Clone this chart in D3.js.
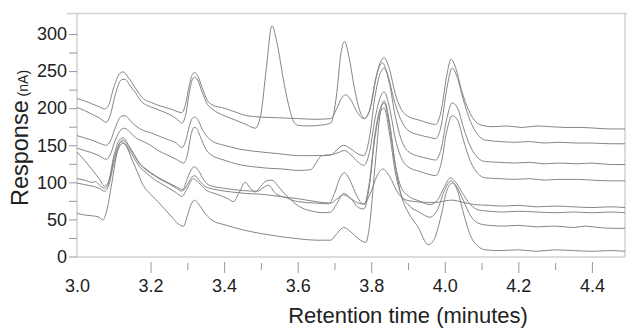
<!DOCTYPE html>
<html>
<head>
<meta charset="utf-8">
<script src="https://cdn.jsdelivr.net/npm/d3@7"></script>
<style>
  body { margin: 0; background: #fff; }
  svg { display: block; font-family: "Liberation Sans", Arial, sans-serif; }
</style>
</head>
<body>
<div id="chart"></div>
<script>
// chromatogram traces, [retention time (min), response (nA)]
var trace1 = [[3.00,213],[3.02,210],[3.04,206],[3.06,202],[3.075,199],[3.085,203],[3.10,228],[3.115,246],[3.125,249],[3.14,241],[3.155,230],[3.17,219],[3.185,211],[3.20,208],[3.22,204],[3.24,201],[3.26,198],[3.275,195],[3.285,194],[3.295,205],[3.305,230],[3.313,245],[3.32,248],[3.328,244],[3.34,228],[3.355,210],[3.37,204],[3.40,200],[3.43,195],[3.46,190],[3.50,188],[3.55,187],[3.60,186],[3.65,185],[3.69,186],[3.705,198],[3.72,214],[3.73,218],[3.745,211],[3.76,196],[3.78,186],[3.795,196],[3.81,235],[3.825,262],[3.835,268],[3.85,252],[3.865,220],[3.88,200],[3.90,189],[3.93,184],[3.955,180],[3.975,178],[3.99,196],[4.005,243],[4.017,266],[4.03,254],[4.045,225],[4.06,203],[4.08,184],[4.10,177],[4.13,175],[4.17,176],[4.21,174],[4.25,176],[4.29,175],[4.33,174],[4.37,174],[4.41,173],[4.45,172],[4.49,172]];
var trace2 = [[3.00,201],[3.02,197],[3.04,192],[3.06,187],[3.08,181],[3.09,190],[3.105,220],[3.12,238],[3.13,239],[3.145,230],[3.16,220],[3.175,209],[3.19,204],[3.21,200],[3.23,196],[3.25,192],[3.27,186],[3.285,180],[3.295,190],[3.305,220],[3.313,238],[3.32,242],[3.328,238],[3.34,222],[3.355,205],[3.37,198],[3.40,190],[3.43,184],[3.46,178],[3.485,173],[3.50,192],[3.515,255],[3.53,311],[3.545,285],[3.56,242],[3.575,205],[3.59,181],[3.60,177],[3.63,176],[3.66,177],[3.69,180],[3.705,215],[3.718,275],[3.727,290],[3.74,268],[3.755,225],[3.77,195],[3.782,186],[3.80,205],[3.815,245],[3.83,261],[3.845,245],[3.86,215],[3.88,185],[3.90,170],[3.93,164],[3.955,161],[3.975,159],[3.99,176],[4.005,225],[4.02,254],[4.035,240],[4.05,212],[4.07,182],[4.09,164],[4.11,157],[4.15,155],[4.19,154],[4.23,155],[4.27,153],[4.31,154],[4.36,153],[4.40,153],[4.45,152],[4.49,152]];
var trace3 = [[3.00,163],[3.02,160],[3.04,157],[3.06,153],[3.08,150],[3.09,155],[3.105,175],[3.12,189],[3.13,190],[3.145,183],[3.16,176],[3.18,170],[3.20,167],[3.22,163],[3.245,158],[3.27,153],[3.285,147],[3.295,155],[3.305,175],[3.313,186],[3.32,188],[3.328,185],[3.34,172],[3.355,161],[3.37,155],[3.40,150],[3.44,145],[3.48,142],[3.52,140],[3.56,138],[3.60,136],[3.65,136],[3.69,137],[3.705,143],[3.725,150],[3.745,145],[3.765,138],[3.78,136],[3.795,160],[3.81,215],[3.825,248],[3.835,254],[3.85,232],[3.865,190],[3.88,160],[3.90,142],[3.93,135],[3.955,132],[3.975,130],[3.99,145],[4.005,185],[4.02,207],[4.035,200],[4.05,175],[4.07,148],[4.09,133],[4.11,128],[4.15,127],[4.19,126],[4.23,127],[4.27,125],[4.31,126],[4.36,125],[4.40,126],[4.45,124],[4.49,124]];
var trace4 = [[3.00,146],[3.02,143],[3.04,140],[3.06,136],[3.08,131],[3.09,137],[3.105,158],[3.12,171],[3.13,173],[3.145,167],[3.16,160],[3.18,155],[3.20,150],[3.22,143],[3.245,137],[3.27,131],[3.29,126],[3.30,137],[3.31,164],[3.318,174],[3.325,173],[3.335,162],[3.35,145],[3.365,137],[3.40,130],[3.44,124],[3.48,121],[3.52,119],[3.56,118],[3.60,116],[3.635,117],[3.65,126],[3.665,136],[3.69,137],[3.71,140],[3.727,143],[3.745,137],[3.765,127],[3.78,123],[3.795,140],[3.81,185],[3.825,215],[3.835,222],[3.85,200],[3.865,160],[3.88,135],[3.90,121],[3.93,115],[3.955,111],[3.975,109],[3.99,125],[4.005,168],[4.02,190],[4.035,184],[4.05,158],[4.07,128],[4.09,112],[4.11,106],[4.15,105],[4.19,104],[4.23,105],[4.27,103],[4.31,104],[4.36,104],[4.40,103],[4.45,102],[4.49,102]];
var trace5 = [[3.00,141],[3.02,130],[3.04,118],[3.06,105],[3.075,95],[3.085,100],[3.10,135],[3.115,157],[3.125,160],[3.14,150],[3.155,138],[3.17,126],[3.19,117],[3.21,110],[3.23,104],[3.25,99],[3.27,94],[3.29,90],[3.30,97],[3.312,107],[3.32,109],[3.335,101],[3.35,94],[3.38,90],[3.42,87],[3.46,85],[3.50,84],[3.55,81],[3.60,78],[3.65,74],[3.69,72],[3.705,77],[3.725,83],[3.745,78],[3.765,72],[3.78,71],[3.80,88],[3.815,108],[3.832,118],[3.85,108],[3.87,88],[3.89,77],[3.92,74],[3.95,73],[3.98,73],[4.00,75],[4.02,76],[4.05,73],[4.08,70],[4.12,69],[4.16,68],[4.20,69],[4.25,67],[4.30,68],[4.35,67],[4.40,66],[4.45,67],[4.49,66]];
var trace6 = [[3.00,105],[3.02,103],[3.04,100],[3.05,101],[3.06,97],[3.075,92],[3.085,98],[3.10,130],[3.115,152],[3.125,157],[3.14,148],[3.155,137],[3.17,125],[3.19,116],[3.21,109],[3.23,103],[3.25,98],[3.27,92],[3.285,88],[3.30,105],[3.313,119],[3.32,121],[3.33,116],[3.345,103],[3.36,96],[3.40,92],[3.45,89],[3.49,88],[3.51,94],[3.52,96],[3.54,85],[3.57,79],[3.60,74],[3.65,72],[3.685,71],[3.70,85],[3.715,106],[3.727,113],[3.74,105],[3.755,88],[3.77,74],[3.78,70],[3.795,100],[3.81,165],[3.825,200],[3.835,207],[3.85,175],[3.865,125],[3.88,95],[3.90,82],[3.93,75],[3.96,70],[3.98,76],[4.00,95],[4.015,106],[4.03,100],[4.05,84],[4.07,70],[4.09,63],[4.12,61],[4.16,60],[4.20,61],[4.25,60],[4.30,59],[4.35,60],[4.40,59],[4.45,60],[4.49,59]];
var trace7 = [[3.00,99],[3.02,97],[3.04,95],[3.06,92],[3.075,88],[3.085,94],[3.10,125],[3.115,148],[3.125,153],[3.14,145],[3.155,133],[3.17,121],[3.19,112],[3.21,104],[3.23,98],[3.25,92],[3.27,86],[3.285,81],[3.30,92],[3.316,105],[3.33,100],[3.35,90],[3.38,84],[3.41,78],[3.425,74],[3.44,85],[3.457,100],[3.47,93],[3.484,87],[3.50,95],[3.515,102],[3.53,103],[3.545,96],[3.56,87],[3.58,77],[3.606,67],[3.64,61],[3.67,59],[3.69,60],[3.705,70],[3.725,85],[3.745,78],[3.765,66],[3.78,64],[3.795,95],[3.81,160],[3.825,195],[3.835,200],[3.85,165],[3.865,115],[3.88,85],[3.90,70],[3.93,60],[3.96,53],[3.98,63],[4.00,90],[4.017,102],[4.03,96],[4.05,76],[4.07,55],[4.09,45],[4.12,42],[4.16,41],[4.20,42],[4.25,40],[4.30,41],[4.35,39],[4.38,41],[4.42,39],[4.46,38],[4.49,38]];
var trace8 = [[3.00,58],[3.02,56],[3.04,55],[3.06,53],[3.07,49],[3.08,60],[3.095,100],[3.11,143],[3.12,155],[3.135,148],[3.15,130],[3.165,113],[3.18,96],[3.20,84],[3.22,74],[3.24,63],[3.26,52],[3.275,44],[3.29,41],[3.30,55],[3.312,72],[3.32,76],[3.33,71],[3.35,57],[3.37,48],[3.40,43],[3.45,36],[3.50,31],[3.55,27],[3.60,24],[3.65,22],[3.69,22],[3.705,30],[3.725,39],[3.745,33],[3.765,24],[3.785,19],[3.795,40],[3.81,120],[3.825,195],[3.835,210],[3.85,180],[3.865,125],[3.88,85],[3.90,60],[3.927,40],[3.955,16],[3.97,22],[3.99,55],[4.005,88],[4.02,99],[4.035,88],[4.05,60],[4.07,28],[4.09,14],[4.11,9],[4.15,8],[4.20,9],[4.25,7],[4.30,9],[4.35,8],[4.40,7],[4.45,8],[4.49,7]];

var traces = [trace1, trace2, trace3, trace4, trace5, trace6, trace7, trace8];

var xLabelTicks = [3.0, 3.2, 3.4, 3.6, 3.8, 4.0, 4.2, 4.4];
var xMajorTicks = [3.2, 3.4, 3.6, 3.8, 4.0, 4.2, 4.4];
var xMinorTicks = [3.3, 3.5, 3.7, 3.9, 4.1, 4.3];
var yTicks = [0, 25, 50, 75, 100, 125, 150, 175, 200, 225, 250, 275, 300];

var width = 628, height = 328;
var plotLeft = 77, plotRight = 625, plotTop = 13.5, plotBottom = 257;

var svg = d3.select("#chart").append("svg")
    .attr("width", width)
    .attr("height", height);

var x = d3.scaleLinear().domain([3.0, 4.49]).range([plotLeft, plotRight]);
var y = d3.scaleLinear().domain([0, 327]).range([256.5, 14]);

// frame
var frame = svg.append("g").attr("stroke", "#d0d0d0").attr("stroke-width", 1.5);
frame.append("line").attr("x1", 67).attr("x2", 627).attr("y1", plotTop).attr("y2", plotTop);
frame.append("line").attr("x1", plotRight).attr("x2", plotRight).attr("y1", plotTop).attr("y2", plotBottom);
frame.append("line").attr("x1", plotLeft).attr("x2", plotLeft).attr("y1", plotTop).attr("y2", plotBottom);
frame.append("line").attr("x1", plotLeft).attr("x2", plotRight).attr("y1", plotBottom).attr("y2", plotBottom);

// y axis
var gy = svg.append("g")
    .attr("transform", "translate(" + plotLeft + ",0)")
    .call(d3.axisLeft(y).tickValues(yTicks).tickSize(8).tickPadding(2)
        .tickFormat(function (d) { return d % 50 === 0 ? d : ""; }));
gy.select(".domain").remove();
gy.selectAll(".tick line").attr("stroke", "#999");
gy.selectAll(".tick text").attr("fill", "#222").style("font-size", "18px")
    .style("font-family", "'Liberation Sans', Arial, sans-serif");

// x axis: labels, then major / minor ticks hanging below the axis line
var gxl = svg.append("g")
    .attr("transform", "translate(0," + plotBottom + ")")
    .call(d3.axisBottom(x).tickValues(xLabelTicks).tickSize(0).tickPadding(22)
        .tickFormat(d3.format(".1f")));
gxl.select(".domain").remove();
gxl.selectAll(".tick text").attr("fill", "#222").style("font-size", "18px")
    .style("font-family", "'Liberation Sans', Arial, sans-serif");

var gxM = svg.append("g")
    .attr("transform", "translate(0,262)")
    .call(d3.axisBottom(x).tickValues(xMajorTicks).tickSize(11).tickFormat(""));
gxM.select(".domain").remove();
gxM.selectAll(".tick line").attr("stroke", "#999");

var gxm = svg.append("g")
    .attr("transform", "translate(0,263)")
    .call(d3.axisBottom(x).tickValues(xMinorTicks).tickSize(7).tickFormat(""));
gxm.select(".domain").remove();
gxm.selectAll(".tick line").attr("stroke", "#999");

// traces
svg.append("clipPath").attr("id", "clip")
    .append("rect").attr("x", plotLeft).attr("y", plotTop)
    .attr("width", plotRight - plotLeft).attr("height", plotBottom - plotTop);

var line = d3.line()
    .x(function (d) { return x(d[0]); })
    .y(function (d) { return y(d[1]); })
    .curve(d3.curveMonotoneX);

svg.append("g").attr("clip-path", "url(#clip)")
    .selectAll("path")
    .data(traces)
    .enter().append("path")
    .attr("d", line)
    .attr("fill", "none")
    .attr("stroke", "#858585")
    .attr("stroke-width", 1);

// titles
svg.append("text")
    .attr("x", 408)
    .attr("y", 323)
    .attr("text-anchor", "middle")
    .attr("fill", "#222")
    .style("font-size", "22px")
    .text("Retention time (minutes)");

var yt = svg.append("text")
    .attr("transform", "translate(28,138) rotate(-90)")
    .attr("text-anchor", "middle")
    .attr("fill", "#222");
yt.append("tspan").style("font-size", "23.5px").text("Response");
yt.append("tspan").style("font-size", "14px").text(" (nA)");
</script>
</body>
</html>
